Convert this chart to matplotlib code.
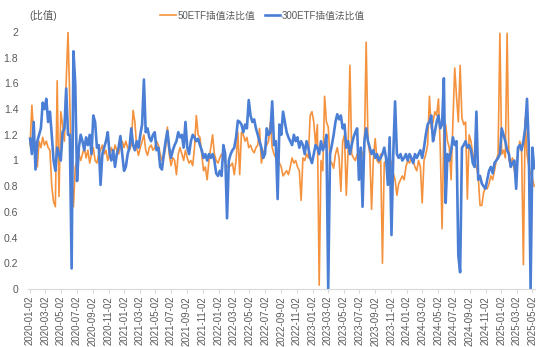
import pandas as pd
import matplotlib
matplotlib.use('Agg')
import matplotlib.pyplot as plt
import matplotlib.dates as mdates

plt.rcParams['font.family'] = ['Liberation Sans', 'Noto Sans CJK SC', 'DejaVu Sans']

# 周度读数（2020-01-03 起，每周一个点）
ratio_50 = [
    # 2020
    1.12, 1.43, 1.20, 1.05, 0.95, 1.15, 1.10, 1.18, 1.12, 1.15,
    1.10, 1.08, 0.80, 0.68, 0.64, 1.62, 0.72, 1.38, 1.28, 1.15,
    1.62, 2.00, 1.46, 0.90, 0.64, 0.95, 1.00, 1.05, 1.00, 1.05,
    1.10, 1.02, 1.08, 0.98, 1.05, 1.10, 1.00, 0.98, 1.05, 1.08,
    1.12, 1.05, 1.08, 1.00, 1.05, 1.10, 1.05, 1.12, 1.08, 1.05,
    1.10, 1.15, 1.10, 1.15, 1.10,
    # 2021
    1.08, 1.12, 1.39, 1.30, 1.10, 1.04, 1.10, 1.15, 1.20, 1.08,
    1.04, 1.10, 1.12, 1.08, 1.10, 1.15, 1.12, 1.05, 1.00, 1.02,
    1.10, 1.26, 1.05, 0.96, 1.02, 1.00, 0.89, 1.05, 1.10, 1.05,
    1.00, 1.08, 1.02, 0.98, 1.00, 0.96, 1.10, 1.35, 1.20, 1.18,
    1.05, 0.92, 0.95, 0.85, 1.00, 1.10, 1.20, 1.05, 1.00, 0.98,
    1.02, 1.05, 1.02, 0.98, 0.95,
    # 2022
    0.95, 0.96, 0.98, 0.89, 1.00, 1.22, 0.89, 1.22, 1.20, 1.15,
    1.18, 1.10, 1.12, 1.08, 1.06, 1.10, 1.12, 1.25, 0.98, 1.05,
    1.10, 1.12, 1.15, 1.30, 1.10, 1.05, 1.02, 1.00, 0.98, 0.95,
    0.88, 0.90, 0.92, 0.89, 0.95, 1.02, 0.98, 1.00, 0.95, 0.92,
    0.69, 1.02, 1.00, 1.05, 1.02, 1.35, 1.38, 1.30, 1.12, 1.28,
    0.03, 1.00, 0.92, 1.50, 1.30, 1.26,
    # 2023
    1.00, 0.98, 0.94, 1.05, 1.10, 1.02, 0.76, 1.15, 1.20, 0.73,
    1.08, 1.74, 1.05, 1.02, 1.00, 1.05, 1.02, 1.00, 1.05, 1.10,
    1.92, 1.15, 1.05, 0.62, 1.02, 1.17, 1.00, 0.98, 1.05, 0.20,
    0.98, 1.00, 0.95, 1.02, 0.98, 0.90, 0.85, 0.73, 0.82, 0.85,
    0.88, 0.85, 0.95, 1.00, 0.98, 1.02, 1.00, 0.95, 0.92, 1.00,
    0.95, 0.67, 1.00, 1.05, 1.12,
    # 2024-2025
    1.50, 1.25, 1.30, 1.38, 1.35, 1.48, 1.10, 0.47, 1.25, 1.28,
    1.15, 1.10, 0.85, 1.30, 1.72, 1.50, 1.30, 1.74, 1.33, 1.28,
    1.30, 0.70, 1.20, 1.15, 1.05, 1.00, 0.95, 0.88, 0.65, 0.65,
    0.75, 0.80, 0.78, 0.82, 0.88, 0.85, 0.92, 1.00, 1.05, 1.99,
    1.05, 1.08, 1.02, 1.99, 1.00, 0.98, 1.02, 0.92, 0.90, 1.05,
    1.15, 1.10, 0.19, 1.33, 1.05, 0.95, 0.90, 0.86, 0.80,
]

ratio_300 = [
    # 2020
    1.17, 1.05, 1.30, 0.93, 1.15, 1.20, 1.25, 1.45, 1.40, 1.48,
    1.30, 1.38, 1.20, 1.00, 0.92, 1.10, 1.05, 1.00, 1.22, 1.25,
    1.56, 1.20, 1.20, 0.16, 1.85, 1.60, 0.84, 1.10, 1.20, 1.15,
    1.08, 1.18, 1.12, 1.20, 1.05, 1.35, 1.30, 1.10, 1.12, 0.81,
    1.05, 1.10, 1.15, 1.22, 1.05, 1.00, 1.08, 0.95, 1.05, 1.10,
    1.19, 1.05, 0.92, 0.95, 1.05,
    # 2021
    1.10, 1.25, 1.12, 1.08, 1.15, 1.10, 1.20, 1.28, 1.63, 1.22,
    1.25, 1.18, 1.15, 1.20, 1.22, 1.08, 1.10, 0.95, 0.93, 1.05,
    1.15, 1.23, 1.10, 1.02, 1.08, 1.12, 1.15, 1.22, 1.18, 1.20,
    1.10, 1.30, 1.10, 1.05, 1.15, 1.20, 1.18, 1.15, 1.17, 1.12,
    1.08, 1.02, 1.05, 1.00, 1.05, 1.02, 1.05, 1.00, 0.90, 0.88,
    0.92, 0.88, 1.12, 1.05, 0.55,
    # 2022
    1.00, 1.05, 1.08, 1.10, 1.18, 1.31, 1.30, 1.28, 1.22, 1.28,
    1.25, 1.47, 1.35, 1.30, 1.32, 1.25, 1.20, 1.15, 1.10, 1.02,
    1.05, 1.25, 1.20, 1.22, 1.46, 1.12, 1.15, 0.70, 1.28, 1.20,
    1.38, 1.30, 1.22, 1.18, 1.15, 1.12, 1.20, 1.15, 1.18, 1.10,
    1.15, 1.12, 1.05, 1.15, 1.10, 1.02, 0.98, 1.05, 1.12, 1.10,
    1.05, 1.15, 1.08, 1.12, 1.20, 0.00,
    # 2023
    1.05, 1.12, 1.20, 1.30, 1.36, 1.32, 1.35, 1.25, 1.28, 1.10,
    1.15, 1.05, 1.12, 1.18, 1.22, 1.25, 0.85, 1.10, 0.64, 1.15,
    1.25, 1.15, 1.10, 1.05, 1.08, 1.02, 1.05, 1.00, 1.02, 1.05,
    1.10, 1.02, 0.81, 1.18, 0.42, 1.05, 1.46, 1.05, 1.02, 1.05,
    1.00, 1.02, 1.05, 1.00, 1.05, 1.02, 0.98, 1.05, 1.02, 1.05,
    1.08, 1.02, 1.10, 1.20, 1.28,
    # 2024-2025
    1.30, 1.35, 1.15, 1.22, 1.30, 1.35, 1.25, 1.28, 1.64, 0.67,
    1.05, 1.00, 1.08, 1.18, 1.12, 1.15, 0.26, 0.13, 1.10, 1.12,
    1.15, 1.10, 1.12, 1.08, 0.98, 0.95, 1.38, 0.85, 0.88, 0.82,
    0.80, 0.78, 0.85, 0.92, 0.95, 0.90, 0.98, 1.00, 1.02, 1.05,
    1.25, 1.20, 1.15, 1.08, 1.05, 0.95, 0.98, 1.00, 0.78, 1.10,
    1.12, 1.08, 1.15, 1.25, 1.48, 1.10, 0.00, 1.10, 0.94,
]

dates = pd.date_range('2020-01-03', periods=len(ratio_300), freq='7D')
tick_dates = pd.date_range('2020-01-01', '2025-05-01', freq='2MS') + pd.Timedelta(days=1)
y_ticks = [0, 0.2, 0.4, 0.6, 0.8, 1, 1.2, 1.4, 1.6, 1.8, 2]

fig = plt.figure(figsize=(5.5, 3.47), dpi=100)
ax = fig.add_axes([28 / 550, 1 - 289 / 347, 507 / 550, 257 / 347])

ax.plot(dates[:len(ratio_50)], ratio_50, color='#F5923E', lw=1.2, label='50ETF插值法比值')
ax.plot(dates, ratio_300, color='#4A7FD5', lw=1.9, label='300ETF插值法比值')

ax.set_ylim(0, 2)
ax.set_xlim(pd.Timestamp('2019-12-26'), pd.Timestamp('2025-05-12'))
ax.set_yticks(y_ticks)
ax.set_yticklabels([f'{v:g}' for v in y_ticks])
ax.set_xticks(tick_dates)
ax.xaxis.set_major_formatter(mdates.DateFormatter('%Y-%m-%d'))
plt.setp(ax.get_xticklabels(), rotation=90)

for s in ['top', 'right', 'left']:
    ax.spines[s].set_visible(False)
ax.spines['bottom'].set_color('#D9D9D9')
ax.tick_params(axis='x', colors='#D9D9D9', labelcolor='#595959', labelsize=7, length=3, pad=2)
ax.tick_params(axis='y', length=0, labelcolor='#595959', labelsize=7.5, pad=7)

fig.text(0.054, 0.955, '(比值)', fontsize=7.5, color='#595959', va='center')
fig.legend(loc='center', bbox_to_anchor=(0.477, 0.955), ncol=2, frameon=False,
           fontsize=7, handlelength=1.6, handletextpad=0.15, columnspacing=1.0,
           labelcolor='#595959')

fig.savefig('out.png', dpi=100)
